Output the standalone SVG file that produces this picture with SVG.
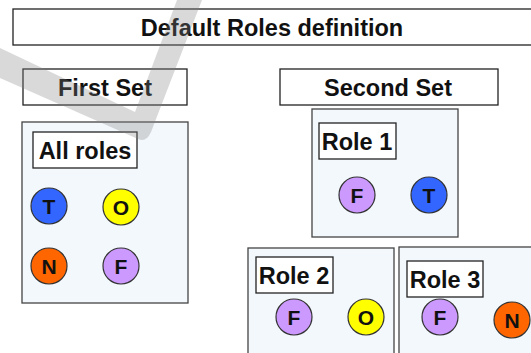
<svg xmlns="http://www.w3.org/2000/svg" width="531" height="353" viewBox="0 0 531 353">
<style>
.lbl{fill:#fff;stroke:#222;stroke-width:1.3}
.cont{fill:#f3f8fd;stroke:#444;stroke-width:1.3}
.t{font-family:"Liberation Sans",Arial,sans-serif;font-weight:bold;font-size:23.5px;fill:#111;text-anchor:middle}
.c{stroke:#333;stroke-width:1.2}
.ct{font-family:"Liberation Sans",Arial,sans-serif;font-weight:bold;font-size:21px;fill:#111;text-anchor:middle}
.T{fill:#3366ff}.O{fill:#ffff00}.N{fill:#ff6600}.F{fill:#cc99ff}
</style>
<rect width="531" height="353" fill="#fff"/>
<g id="title"><rect class="lbl" x="13" y="9" width="530" height="36"/><text class="t" x="272" y="36">Default Roles definition</text></g>
<g id="first-set"><rect class="lbl" x="23" y="69" width="164" height="36"/><text class="t" x="105" y="96">First Set</text></g>
<g id="second-set"><rect class="lbl" x="280" y="69" width="218" height="36"/><text class="t" x="388" y="96">Second Set</text></g>
<g id="all-roles">
<rect class="cont" x="22" y="122" width="166" height="181"/>
<rect class="lbl" x="33" y="132" width="104" height="36"/><text class="t" x="85" y="159">All roles</text>
<circle class="c T" cx="49" cy="206" r="18"/><text class="ct" x="49" y="213.5">T</text>
<circle class="c O" cx="121" cy="207" r="18"/><text class="ct" x="121" y="214.5">O</text>
<circle class="c N" cx="49" cy="266" r="18"/><text class="ct" x="49" y="273.5">N</text>
<circle class="c F" cx="121" cy="266" r="18"/><text class="ct" x="121" y="273.5">F</text>
</g>
<g id="role1">
<rect class="cont" x="312" y="109" width="146" height="128"/>
<rect class="lbl" x="319" y="123" width="77" height="36"/><text class="t" x="357" y="150">Role 1</text>
<circle class="c F" cx="357" cy="195" r="18"/><text class="ct" x="357" y="202.5">F</text>
<circle class="c T" cx="429" cy="195" r="18"/><text class="ct" x="429" y="202.5">T</text>
</g>
<g id="role2">
<rect class="cont" x="248" y="248" width="146" height="120"/>
<rect class="lbl" x="256" y="257" width="77" height="36"/><text class="t" x="294" y="284">Role 2</text>
<circle class="c F" cx="294" cy="317" r="18"/><text class="ct" x="294" y="324.5">F</text>
<circle class="c O" cx="366" cy="317" r="18"/><text class="ct" x="366" y="324.5">O</text>
</g>
<g id="role3">
<rect class="cont" x="399" y="247" width="150" height="120"/>
<rect class="lbl" x="407" y="261" width="76" height="36"/><text class="t" x="445" y="288">Role 3</text>
<circle class="c F" cx="440" cy="317" r="18"/><text class="ct" x="440" y="324.5">F</text>
<circle class="c N" cx="512" cy="320" r="18"/><text class="ct" x="512" y="327.5">N</text>
</g>
<g id="connectors"></g>
<path id="watermark" d="M0,48 L135,112 L177,0 L202,0 L151,132 Q146,143 138,139 L0,78 Z" fill="#808080" fill-opacity="0.3"/>
</svg>
